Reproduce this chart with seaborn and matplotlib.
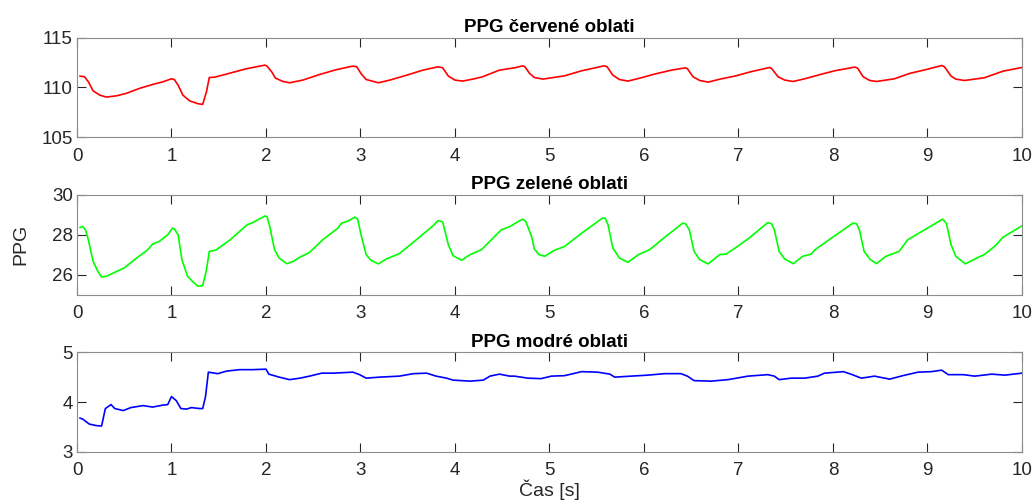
import numpy as np
import pandas as pd
import matplotlib
matplotlib.use("Agg")
import matplotlib.pyplot as plt
import seaborn as sns

# ---- data ----
red_t = [0.03,0.08,0.12,0.17,0.24,0.31,0.42,0.52,0.66,0.80,0.91,1.00,1.03,1.07,1.12,1.19,1.28,1.33,1.37,1.40,
         1.46,1.58,1.79,1.99,2.01,2.06,2.10,2.18,2.25,2.39,2.57,2.74,2.92,2.96,3.01,3.06,3.19,3.31,3.49,3.66,
         3.82,3.87,3.93,4.00,4.08,4.19,4.29,4.47,4.63,4.72,4.74,4.79,4.84,4.93,5.02,5.16,5.34,5.58,5.61,5.67,
         5.74,5.83,5.97,6.11,6.29,6.44,6.46,6.52,6.59,6.68,6.82,6.96,7.13,7.33,7.35,7.42,7.49,7.58,7.70,7.88,
         8.02,8.23,8.26,8.32,8.39,8.46,8.65,8.81,8.99,9.15,9.18,9.25,9.30,9.39,9.50,9.60,9.80,10.0]
red_v = [111.14,111.07,110.57,109.66,109.23,109.03,109.16,109.40,109.90,110.30,110.57,110.87,110.80,110.23,109.23,108.66,108.36,108.29,109.56,111.00,
         111.04,111.34,111.88,112.25,112.15,111.58,110.94,110.60,110.47,110.74,111.31,111.78,112.15,112.08,111.34,110.80,110.47,110.74,111.24,111.74,
         112.08,111.98,111.14,110.74,110.64,110.84,111.07,111.74,111.98,112.18,112.08,111.41,111.00,110.84,110.97,111.17,111.68,112.18,112.08,111.24,
         110.80,110.64,110.97,111.34,111.74,111.98,111.88,111.07,110.70,110.54,110.87,111.14,111.58,112.01,111.91,111.07,110.74,110.60,110.87,111.34,
         111.68,112.05,111.95,111.07,110.70,110.60,110.87,111.41,111.81,112.21,112.08,111.14,110.84,110.70,110.84,110.97,111.64,112.01]

green_t = [0.03,0.06,0.09,0.12,0.17,0.22,0.26,0.31,0.40,0.50,0.63,0.75,0.80,0.87,0.96,1.01,1.03,1.07,1.11,1.17,
           1.23,1.28,1.33,1.37,1.40,1.47,1.62,1.76,1.80,1.86,1.99,2.01,2.04,2.09,2.14,2.22,2.29,2.36,2.46,2.60,
           2.76,2.80,2.87,2.94,2.97,3.01,3.06,3.11,3.19,3.27,3.41,3.57,3.77,3.82,3.87,3.93,3.98,4.07,4.16,4.28,
           4.49,4.58,4.68,4.72,4.75,4.81,4.84,4.89,4.95,5.05,5.16,5.34,5.56,5.59,5.62,5.67,5.74,5.83,5.94,6.06,
           6.22,6.41,6.44,6.48,6.53,6.59,6.68,6.80,6.87,6.98,7.10,7.31,7.35,7.38,7.43,7.49,7.58,7.68,7.77,7.81,
           7.97,8.21,8.25,8.28,8.33,8.39,8.46,8.56,8.70,8.79,8.97,9.16,9.20,9.25,9.30,9.40,9.52,9.60,9.71,9.80,10.0]
green_v = [28.36,28.41,28.25,27.75,26.68,26.18,25.90,25.93,26.13,26.35,26.84,27.26,27.54,27.67,28.00,28.33,28.30,28.00,26.76,25.93,
           25.64,25.44,25.47,26.26,27.17,27.24,27.75,28.33,28.50,28.61,28.94,28.91,28.41,27.26,26.84,26.56,26.68,26.89,27.12,27.75,
           28.33,28.58,28.69,28.88,28.78,27.92,27.01,26.73,26.55,26.79,27.06,27.67,28.46,28.71,28.64,27.50,26.96,26.73,27.01,27.26,
           28.25,28.41,28.69,28.78,28.66,27.92,27.29,27.01,26.93,27.22,27.42,28.08,28.83,28.83,28.50,27.34,26.84,26.63,27.01,27.26,
           27.88,28.58,28.55,28.25,27.17,26.76,26.55,27.01,27.04,27.39,27.79,28.61,28.55,28.25,27.17,26.79,26.56,26.93,27.04,27.26,
           27.79,28.58,28.55,28.25,27.17,26.79,26.56,26.93,27.17,27.75,28.25,28.78,28.58,27.50,26.93,26.55,26.84,27.01,27.42,27.88,28.45]

blue_t = [0.03,0.06,0.13,0.20,0.26,0.30,0.36,0.40,0.49,0.57,0.70,0.80,0.91,0.96,1.00,1.05,1.10,1.16,1.21,1.30,
          1.33,1.36,1.39,1.49,1.58,1.72,1.86,2.00,2.03,2.14,2.25,2.36,2.46,2.59,2.71,2.92,2.99,3.06,3.20,3.41,
          3.56,3.70,3.80,3.91,3.98,4.16,4.30,4.37,4.47,4.58,4.63,4.77,4.91,5.02,5.16,5.34,5.51,5.64,5.69,5.86,
          6.04,6.22,6.39,6.46,6.53,6.71,6.89,7.10,7.31,7.38,7.43,7.56,7.70,7.84,7.91,8.11,8.19,8.30,8.44,8.60,
          8.74,8.90,9.04,9.15,9.22,9.38,9.50,9.68,9.82,10.0]
blue_v = [3.68,3.66,3.56,3.53,3.52,3.87,3.95,3.87,3.83,3.89,3.93,3.90,3.94,3.95,4.11,4.03,3.87,3.86,3.89,3.87,
          3.87,4.11,4.60,4.57,4.62,4.65,4.65,4.66,4.56,4.50,4.45,4.48,4.52,4.58,4.58,4.60,4.55,4.48,4.50,4.52,
          4.57,4.58,4.52,4.48,4.44,4.42,4.44,4.52,4.56,4.52,4.52,4.48,4.47,4.52,4.53,4.61,4.60,4.56,4.50,4.52,
          4.54,4.57,4.57,4.52,4.43,4.42,4.45,4.52,4.55,4.52,4.45,4.48,4.48,4.52,4.58,4.61,4.56,4.48,4.52,4.46,
          4.53,4.60,4.61,4.64,4.55,4.55,4.52,4.56,4.54,4.58]

titles = ["PPG červené oblati", "PPG zelené oblati", "PPG modré oblati"]
ylims = [(105, 115), (25, 30), (3, 5)]
yticks = [[105, 110, 115], [26, 28, 30], [3, 4, 5]]
xticks = list(range(0, 11))
colors = ["#ff0000", "#00ff00", "#0000ff"]

# ---- figure ----
sns.set_style("white")
plt.rcParams["font.family"] = ["Liberation Sans", "DejaVu Sans"]

fig = plt.figure(figsize=(10.35, 5.04), dpi=100)
positions = [(0.0744, 0.728, 0.913, 0.197),
             (0.0744, 0.4147, 0.913, 0.199),
             (0.0744, 0.1032, 0.913, 0.198)]
series = [(red_t, red_v), (green_t, green_v), (blue_t, blue_v)]

axes = []
for i, (pos, (t, v)) in enumerate(zip(positions, series)):
    ax = fig.add_axes(pos)
    df = pd.DataFrame({"t": t, "v": v})
    sns.lineplot(data=df, x="t", y="v", ax=ax, color=colors[i], linewidth=1.2,
                 estimator=None, sort=False)
    ax.set_xlim(0, 10)
    ax.set_ylim(*ylims[i])
    ax.set_xticks(xticks)
    ax.set_yticks(yticks[i])
    ax.set_xlabel("")
    ax.set_ylabel("")
    ax.set_title(titles[i], fontsize=13.5, fontweight="bold", color="black", pad=4)
    for s in ax.spines.values():
        s.set_visible(True)
        s.set_color("#8c8c8c")
        s.set_linewidth(0.8)
    ax.tick_params(direction="in", length=6.5, width=0.8, color="#262626",
                   labelsize=13.5, labelcolor="#262626", top=True, right=True,
                   bottom=True, left=True)
    ax.tick_params(axis="x", pad=7.5)
    ax.tick_params(axis="y", pad=3)
    axes.append(ax)

axes[1].set_ylabel("PPG", fontsize=14, color="#262626", labelpad=16)
axes[2].set_xlabel("Čas [s]", fontsize=14, color="#262626", labelpad=0)

fig.savefig("out.png", dpi=100, facecolor="white")
